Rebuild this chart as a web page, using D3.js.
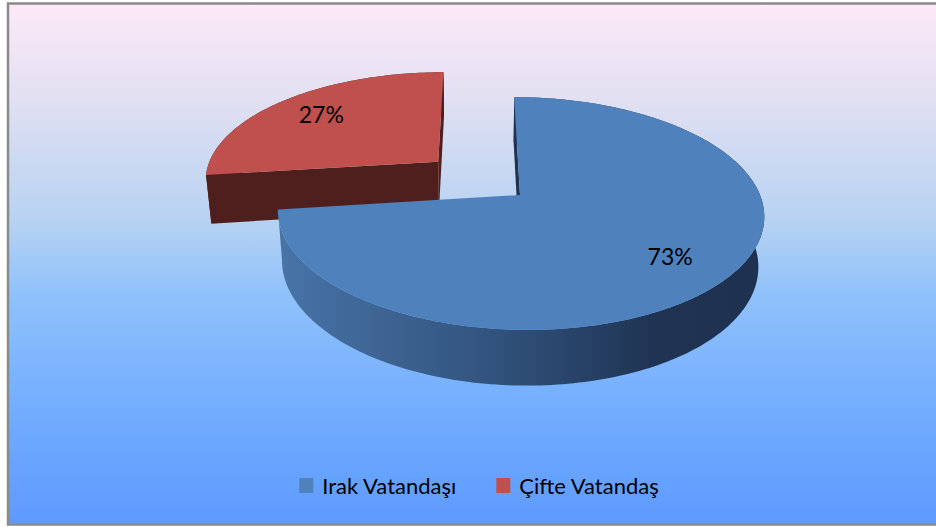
<!DOCTYPE html>
<html>
<head>
<meta charset="utf-8">
<script src="https://cdn.jsdelivr.net/npm/d3@7"></script>
<style>
  html, body { margin: 0; padding: 0; background: #fff; }
  svg { display: block; font-family: Lato, "Open Sans", sans-serif; }
</style>
</head>
<body>
<script>
// chart data
const categories = ["Irak Vatandaşı", "Çifte Vatandaş"];
const values = [73, 27];
const labels = ["73%", "27%"];
const colors = ["#4f81bd", "#c0504d"];
const exploded = [0, 0.465];

let width = 936,
  height = 527;

// 3d view (units of pie radius)
let R = 240,
  cx = 520,
  cy = 195,
  vx = 478,
  tilt = 28.2 * Math.PI / 180,
  depth = 5.54,
  thick = 0.24;

let sinA = Math.sin(tilt),
  cosA = Math.cos(tilt);

// camera position in pie space, for hiding back faces
let cam = [(vx - cx) / R, depth * sinA, -depth * cosA];

function proj(X, Z, Y) {
  let sy = Y * cosA + Z * sinA;
  let d = Z * cosA - Y * sinA;
  let s = depth / (depth + d);
  return [vx + (cx + R * X - vx) * s, cy - R * sy * s];
}

let svg = d3.select("body").append("svg")
  .attr("width", width)
  .attr("height", height);

let defs = svg.append("defs");

let bg = defs.append("linearGradient")
  .attr("id", "bg")
  .attr("x1", 0).attr("y1", 0).attr("x2", 0).attr("y2", 1);
[[0, "#fde9f8"], [0.18, "#e2e0f2"], [0.42, "#b6d2f2"], [0.56, "#8fc1fb"], [0.8, "#70abff"], [1, "#5d9aff"]]
  .forEach(s => bg.append("stop").attr("offset", s[0]).attr("stop-color", s[1]));

let wallBlue = defs.append("linearGradient")
  .attr("id", "wallBlue")
  .attr("gradientUnits", "userSpaceOnUse")
  .attr("x1", 280).attr("y1", 0).attr("x2", 765).attr("y2", 0);
[[0, "#4874a8"], [0.45, "#31527c"], [0.78, "#1f3352"], [1, "#1e3150"]]
  .forEach(s => wallBlue.append("stop").attr("offset", s[0]).attr("stop-color", s[1]));

// frame
svg.append("rect")
  .attr("x", 8)
  .attr("y", 3.5)
  .attr("width", width + 10)
  .attr("height", 521)
  .attr("fill", "url(#bg)")
  .attr("stroke", "#8a8a8a")
  .attr("stroke-width", 2.5);

let pie = d3.pie().sort(null).value(d => d);
let arcs = pie(values);

let line = d3.line();

function rim(a0, a1, r, ox, oz, Y) {
  let n = Math.max(2, Math.ceil(Math.abs(a1 - a0) / 0.02));
  return d3.range(n + 1).map(i => {
    let a = a0 + (a1 - a0) * i / n;
    return proj(ox + r * Math.sin(a), oz + r * Math.cos(a), Y);
  });
}

let wallFill = ["url(#wallBlue)", "#4f1f1e"];
let sideFill = ["#1f3352", "#4f1f1e"];

// draw back slice first
let order = [1, 0];
order.forEach(i => {
  let d = arcs[i];
  let mid = (d.startAngle + d.endAngle) / 2;
  let ox = exploded[i] * Math.sin(mid),
    oz = exploded[i] * Math.cos(mid);
  let g = svg.append("g").attr("class", "slice");

  // outer wall
  let top = rim(d.startAngle, d.endAngle, 1, ox, oz, 0);
  let bot = rim(d.startAngle, d.endAngle, 1, ox, oz, -thick).reverse();
  g.append("path")
    .attr("d", line(top.concat(bot)) + "Z")
    .attr("fill", wallFill[i]);

  // radial faces, only those turned to the camera
  [[d.startAngle, -1], [d.endAngle, 1]].forEach(([a, k]) => {
    let nx = k * Math.cos(a),
      nz = -k * Math.sin(a);
    if (nx * (cam[0] - ox) + nz * (cam[2] - oz) <= 0) return;
    let pts = [
      proj(ox, oz, 0),
      proj(ox + Math.sin(a), oz + Math.cos(a), 0),
      proj(ox + Math.sin(a), oz + Math.cos(a), -thick),
      proj(ox, oz, -thick)
    ];
    g.append("path")
      .attr("d", line(pts) + "Z")
      .attr("fill", sideFill[i]);
  });

  // top face
  let face = [proj(ox, oz, 0)].concat(rim(d.startAngle, d.endAngle, 1, ox, oz, 0));
  g.append("path")
    .attr("d", line(face) + "Z")
    .attr("fill", colors[i]);

  // label
  let lp = proj(ox + 0.75 * Math.sin(mid), oz + 0.75 * Math.cos(mid), 0);
  g.append("text")
    .attr("x", lp[0])
    .attr("y", lp[1])
    .attr("dy", "0.4em")
    .attr("text-anchor", "middle")
    .style("font-size", "23px")
    .attr("fill", "#000")
    .text(labels[i]);
});

// legend
let legend = svg.append("g").attr("class", "legend");
let items = legend.selectAll("g")
  .data(categories)
  .enter()
  .append("g");
items.append("rect")
  .attr("y", -16)
  .attr("width", 14)
  .attr("height", 15)
  .attr("fill", (d, i) => colors[i]);
items.append("text")
  .attr("x", 23)
  .attr("y", 0)
  .style("font-size", "22px")
  .attr("fill", "#000")
  .text(d => d);

let x = 0;
items.each(function () {
  let w = 23 + d3.select(this).select("text").node().getComputedTextLength();
  d3.select(this).attr("transform", "translate(" + x + ",0)");
  x += w + 40;
});
let total = x - 40;
legend.attr("transform", "translate(" + (479 - total / 2) + ",494)");
</script>
</body>
</html>
